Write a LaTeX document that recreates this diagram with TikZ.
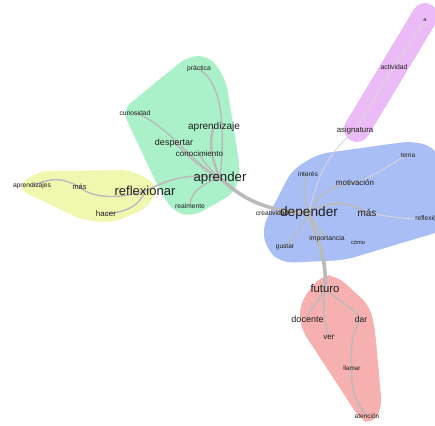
\documentclass[tikz,border=0pt]{standalone}
\usepackage{fontspec}
\setmainfont{Liberation Sans}
\definecolor{yellowreg}{RGB}{240,247,175}
\definecolor{greenreg}{RGB}{170,241,201}
\definecolor{bluereg}{RGB}{170,190,246}
\definecolor{redreg}{RGB}{246,176,176}
\definecolor{purplereg}{RGB}{236,186,246}
\definecolor{edgegray}{RGB}{186,186,186}
\definecolor{edgelight}{RGB}{215,215,215}
\definecolor{txt}{RGB}{30,30,30}
\pgfdeclarelayer{regions}
\pgfdeclarelayer{edges}
\pgfsetlayers{regions,edges,main}
\tikzset{
  word/.style={inner sep=0pt, text=txt, font=\fontsize{#1}{#1}\selectfont},
  link/.style={draw=edgegray, line width=#1, line cap=round},
  link/.default=1.4pt,
  faint/.style={draw=edgelight, line width=0.9pt, line cap=round},
  region/.style={fill=#1, draw=none, rounded corners=11pt}
}
\begin{document}
\begin{tikzpicture}[x=1pt,y=-1pt]
\useasboundingbox (0,0) rectangle (435,425);

% words: yellow cluster
\node[word=6.7] (aprendizajes) at (32,186) {aprendizajes};
\node[word=7.4] (masA) at (79.5,187) {más};
\node[word=13] (reflexionar) at (145,191) {reflexionar};
\node[word=8] (hacer) at (106,214) {hacer};
% green cluster
\node[word=6.8] (practica) at (199,69) {práctica};
\node[word=6.8] (curiosidad) at (135,113) {curiosidad};
\node[word=10] (aprendizaje) at (214,127) {aprendizaje};
\node[word=9] (despertar) at (174,143) {despertar};
\node[word=8] (conocimiento) at (199.5,154) {conocimiento};
\node[word=13.2] (aprender) at (220,178) {aprender};
\node[word=6.7] (realmente) at (190,206) {realmente};
% blue cluster
\node[word=6.5] (tema) at (408,155) {tema};
\node[word=6.6] (interes) at (308,174) {interés};
\node[word=8] (motivacion) at (355,183) {motivación};
\node[word=6.7] (creatividad) at (272,213) {creatividad};
\node[word=13.7] (depender) at (309,213) {depender};
\node[word=10] (masB) at (367,213) {más};
\node[word=6.7] (reflexion) at (428,218) {reflexión};
\node[word=6.8] (importancia) at (327,239) {importancia};
\node[word=5.7] (como) at (358,242) {cómo};
\node[word=6.6] (gustar) at (285,247) {gustar};
% red cluster
\node[word=11.3] (futuro) at (325,288) {futuro};
\node[word=9] (docente) at (307.5,319) {docente};
\node[word=8.5] (dar) at (361,319) {dar};
\node[word=8] (ver) at (329,337) {ver};
\node[word=6.3] (llamar) at (352,368) {llamar};
\node[word=6.5] (atencion) at (367,416) {atención};
% purple cluster
\node[word=5.5] (a) at (425,20) {a};
\node[word=6.8] (actividad) at (394,67) {actividad};
\node[word=7.8] (asignatura) at (355,130) {asignatura};

% cluster halos
\begin{pgfonlayer}{regions}
  \fill[region=greenreg] (122,110) -- (188,56) -- (210,56) -- (226,80) -- (240,168)
    -- (236,192) -- (192,217) -- (172,211) -- (155,180) -- cycle;
  \fill[region=yellowreg] (16,188) -- (38,171) -- (132,170) -- (159,186) -- (148,208)
    -- (112,223) -- (82,220) -- cycle;
  \fill[region=bluereg] (262,228) -- (292,170) -- (318,154) -- (412,141) -- (434,147)
    -- (445,165) -- (445,230) -- (345,260) -- (282,263) -- (267,250) -- cycle;
  \fill[region=redreg] (300,303) -- (320,276) -- (336,275) -- (370,306) -- (375,330)
    -- (382,408) -- (372,425) -- (360,419) -- (300,327) -- cycle;
  \draw[purplereg, line width=26pt, line cap=round] (425,16) -- (357,129);
\end{pgfonlayer}

% connectors
\begin{pgfonlayer}{edges}
  % yellow
  \draw[link] (aprendizajes.center) .. controls (55,176) and (64,179) .. (masA.center);
  \draw[link] (masA.center) .. controls (95,200) and (122,198) .. (reflexionar.center);
  \draw[link] (reflexionar.center) .. controls (140,206) and (126,212) .. (hacer.center);
  \draw[link=1.6pt] (reflexionar.center) .. controls (165,182) and (182,172) .. (aprender.center);
  % green
  \draw[link=2.4pt] (aprender.center) .. controls (212,160) and (208,142) .. (aprendizaje.center);
  \draw[link] (aprender.center) .. controls (224,140) and (226,86) .. (practica.center);
  \draw[link] (aprender.center) .. controls (195,166) and (165,122) .. (curiosidad.center);
  \draw[link] (aprender.center) .. controls (200,170) and (186,152) .. (despertar.center);
  \draw[link] (aprender.center) .. controls (210,170) and (204,162) .. (conocimiento.center);
  \draw[link] (aprender.center) .. controls (200,184) and (190,194) .. (realmente.center);
  \draw[link=3.6pt] (aprender.center) .. controls (236,192) and (256,211) .. (depender.center);
  % blue
  \draw[link] (depender.center) -- (creatividad.center);
  \draw[link] (depender.center) .. controls (302,196) and (303,186) .. (interes.center);
  \draw[link=1.6pt] (depender.center) .. controls (318,194) and (334,184) .. (motivacion.center);
  \draw[link=1.8pt] (depender.center) .. controls (325,200) and (350,201) .. (masB.center);
  \draw[faint] (motivacion.center) .. controls (380,174) and (395,160) .. (tema.center);
  \draw[faint] (masB.center) .. controls (390,216) and (410,221) .. (reflexion.center);
  \draw[link] (depender.center) .. controls (315,225) and (322,232) .. (importancia.center);
  \draw[link] (depender.center) .. controls (300,230) and (292,240) .. (gustar.center);
  \draw[faint] (depender.center) .. controls (318,172) and (330,152) .. (asignatura.center);
  \draw[link=3.6pt] (depender.center) .. controls (318,240) and (327,260) .. (futuro.center);
  % purple
  \draw[faint] (asignatura.center) -- (actividad.center);
  \draw[faint] (actividad.center) -- (a.center);
  % red
  \draw[link] (futuro.center) .. controls (318,304) and (308,310) .. (docente.center);
  \draw[link] (futuro.center) .. controls (322,310) and (325,324) .. (ver.center);
  \draw[link] (futuro.center) .. controls (336,300) and (350,305) .. (dar.center);
  \draw[link] (dar.center) .. controls (352,330) and (350,350) .. (llamar.center);
  \draw[link] (llamar.center) .. controls (350,386) and (356,404) .. (atencion.center);
\end{pgfonlayer}
\end{tikzpicture}
\end{document}
